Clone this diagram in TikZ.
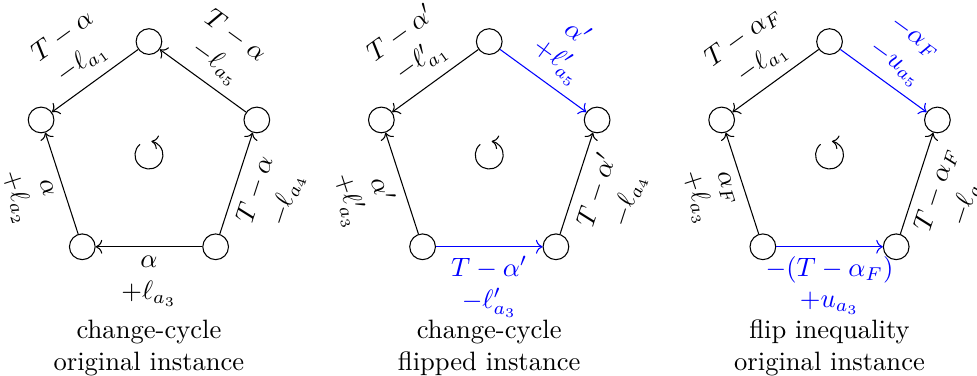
\documentclass[tikz,border=0pt]{standalone}
\usepackage{amsmath,amssymb}
\usepackage{tikz}
\usetikzlibrary{arrows.meta}
\tikzset{
  vtx/.style={circle,draw,minimum size=3.4mm,inner sep=0pt},
  ed/.style ={->},
  fl/.style ={->,blue},
  lab/.style={midway,sloped,align=center},
  captxt/.style={align=center},
}
\newcommand{\turn}{\draw[->] (130:0.185) arc[start angle=130,end angle=440,radius=0.185];}

\begin{document}
\begin{tikzpicture}
\useasboundingbox (-1.97,-2.92) rectangle (10.95,2.05);
% change-cycle, original instance
\node[vtx] (a1) at (90:1.5) {};
\node[vtx] (a2) at (162:1.5) {};
\node[vtx] (a3) at (234:1.5) {};
\node[vtx] (a4) at (306:1.5) {};
\node[vtx] (a5) at (18:1.5) {};
\turn
\draw[ed] (a1) -- (a2) node[lab,above] {$T-\alpha$\\$-\ell_{a_1}$};
\draw[ed] (a5) -- (a1) node[lab,above] {$T-\alpha$\\$-\ell_{a_5}$};
\draw[ed] (a3) -- (a2) node[lab,below] {$\alpha$\\$+\ell_{a_2}$};
\draw[ed] (a4) -- (a3) node[lab,below] {$\alpha$\\$+\ell_{a_3}$};
\draw[ed] (a4) -- (a5) node[lab,below] {$T-\alpha$\\$-\ell_{a_4}$};
\node[captxt] (capa) at (0,-2.55) {change-cycle\\original instance};

% change-cycle, flipped instance
\begin{scope}[xshift=4.5cm]
\node[vtx] (b1) at (90:1.5) {};
\node[vtx] (b2) at (162:1.5) {};
\node[vtx] (b3) at (234:1.5) {};
\node[vtx] (b4) at (306:1.5) {};
\node[vtx] (b5) at (18:1.5) {};
\turn
\draw[ed] (b1) -- (b2) node[lab,above] {$T-\alpha'$\\$-\ell'_{a_1}$};
\draw[fl] (b1) -- (b5) node[lab,above] {$\alpha'$\\$+\ell'_{a_5}$};
\draw[ed] (b3) -- (b2) node[lab,below] {$\alpha'$\\$+\ell'_{a_3}$};
\draw[fl] (b3) -- (b4) node[lab,below] {$T-\alpha'$\\$-\ell'_{a_3}$};
\draw[ed] (b4) -- (b5) node[lab,below] {$T-\alpha'$\\$-\ell_{a_4}$};
\node[captxt] (capb) at (0,-2.55) {change-cycle\\flipped instance};
\end{scope}

% flip inequality, original instance
\begin{scope}[xshift=9cm]
\node[vtx] (c1) at (90:1.5) {};
\node[vtx] (c2) at (162:1.5) {};
\node[vtx] (c3) at (234:1.5) {};
\node[vtx] (c4) at (306:1.5) {};
\node[vtx] (c5) at (18:1.5) {};
\turn
\draw[ed] (c1) -- (c2) node[lab,above] {$T-\alpha_F$\\$-\ell_{a_1}$};
\draw[fl] (c1) -- (c5) node[lab,above] {$-\alpha_F$\\$-u_{a_5}$};
\draw[ed] (c3) -- (c2) node[lab,below] {$\alpha_F$\\$+\ell_{a_3}$};
\draw[fl] (c3) -- (c4) node[lab,below] {$-(T-\alpha_F)$\\$+u_{a_3}$};
\draw[ed] (c4) -- (c5) node[lab,below] {$T-\alpha_F$\\$-\ell_{a_4}$};
\node[captxt] (capc) at (0,-2.55) {flip inequality\\original instance};
\end{scope}
\end{tikzpicture}
\end{document}
